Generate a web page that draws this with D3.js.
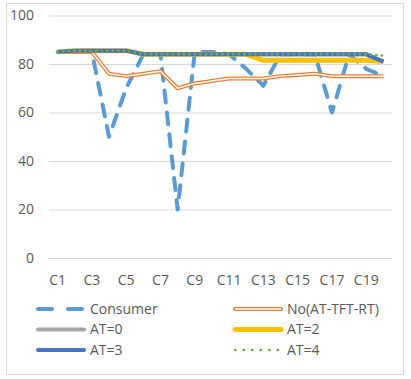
<!DOCTYPE html>
<html>
<head>
<meta charset="utf-8">
<script src="https://cdn.jsdelivr.net/npm/d3@7"></script>
<style>
  body { margin: 0; background: #fff; }
  svg { display: block; font-family: "Open Sans", sans-serif; }
</style>
</head>
<body>
<script>
const categories = ["C1", "C2", "C3", "C4", "C5", "C6", "C7", "C8", "C9", "C10",
    "C11", "C12", "C13", "C14", "C15", "C16", "C17", "C18", "C19", "C20"];

const consumer = [85, 85, 85, 50, 70, 84, 84, 20, 85, 85, 84, 78, 71, 84, 84, 84, 60, 84, 78, 75];
const noAtTftRt = [85, 85, 85, 76, 75, 76, 77, 70, 72, 73, 74, 74, 74, 75, 75.5, 76, 75, 75, 75, 75];
const at0 = [85, 85.5, 85.5, 85.5, 85.5, 84, 84, 84, 84, 84, 84, 84, 84, 84, 84, 84, 84, 84, 84, 81];
const at2 = [85, 85.5, 85.5, 85.5, 85.5, 84, 84, 84, 84, 84, 84, 84, 81.5, 81.5, 81.5, 81.5, 81.5, 81.5, 81.5, 81];
const at3 = [85, 85.5, 85.5, 85.5, 85.5, 84, 84, 84, 84, 84, 84, 84, 84, 84, 84, 84, 84, 84, 84, 81];
const at4 = [85, 85.5, 85.5, 85.5, 85.5, 84, 84, 84, 84, 84, 84, 84, 84, 84, 84, 84, 84, 84, 84, 83.5];

const yTicks = [0, 20, 40, 60, 80, 100];

const w = 411, h = 379;

const svg = d3.select('body').append('svg')
    .attr('width', w)
    .attr('height', h);

// chart frame
svg.append('rect')
    .attr('x', 6.5).attr('y', 3.5)
    .attr('width', 397).attr('height', 371)
    .attr('fill', '#fff')
    .attr('stroke', '#d9d9d9');

const x = d3.scaleBand()
    .domain(categories)
    .range([49, 392]);

const y = d3.scaleLinear()
    .domain([0, 100])
    .range([258, 15.5]);

const px = c => x(c) + x.bandwidth() / 2;

// gridlines + y labels
const yAxis = svg.append('g')
    .attr('transform', 'translate(49,0)')
    .call(d3.axisLeft(y).tickValues(yTicks).tickSize(-343).tickPadding(15));
yAxis.select('.domain').remove();
yAxis.selectAll('.tick line').attr('stroke', '#d9d9d9');
yAxis.selectAll('.tick text')
    .attr('fill', '#595959')
    .style('font-size', '14px')
    .style('font-family', '"Open Sans", sans-serif');

// x labels
const xAxis = svg.append('g')
    .attr('transform', 'translate(0,258)')
    .call(d3.axisBottom(x)
        .tickValues(categories.filter((d, i) => i % 2 === 0))
        .tickSize(0).tickPadding(17));
xAxis.select('.domain').remove();
xAxis.selectAll('.tick text')
    .attr('fill', '#595959')
    .style('font-size', '14px')
    .style('font-family', '"Open Sans", sans-serif');

const line = d3.line()
    .x((d, i) => px(categories[i]))
    .y(d => y(d));

const series = [
    { name: 'Consumer', data: consumer, color: '#5b9bd5', width: 4, dash: '12,10', cap: 'round' },
    { name: 'No(AT-TFT-RT)', data: noAtTftRt, color: '#ed7d31', width: 4, inner: true },
    { name: 'AT=0', data: at0, color: '#a5a5a5', width: 4 },
    { name: 'AT=2', data: at2, color: '#ffc000', width: 5 },
    { name: 'AT=3', data: at3, color: '#4472c4', width: 4 },
    { name: 'AT=4', data: at4, color: '#70ad47', width: 2.5, dash: '0.5,5', cap: 'round' }
];

const plot = svg.append('g');

series.forEach(s => {
    plot.append('path')
        .datum(s.data)
        .attr('d', line)
        .attr('fill', 'none')
        .attr('stroke', s.color)
        .attr('stroke-width', s.width)
        .attr('stroke-dasharray', s.dash || null)
        .attr('stroke-linecap', s.cap || 'butt')
        .attr('stroke-linejoin', 'round');
    if (s.inner) {
        plot.append('path')
            .datum(s.data)
            .attr('d', line)
            .attr('fill', 'none')
            .attr('stroke', '#fff')
            .attr('stroke-width', 1.5)
            .attr('stroke-linejoin', 'round');
    }
});

// legend
const legendPos = [[36, 309], [233, 309], [36, 329.5], [233, 329.5], [36, 350], [233, 350]];

series.forEach((s, i) => {
    const [lx, ly] = legendPos[i];
    const g = svg.append('g').attr('transform', `translate(${lx},${ly})`);
    g.append('line')
        .attr('x1', 2).attr('x2', 48)
        .attr('stroke', s.color)
        .attr('stroke-width', s.width)
        .attr('stroke-dasharray', s.dash ? (i === 0 ? '14,16' : '0.5,8') : null)
        .attr('stroke-linecap', s.cap || 'round');
    if (s.inner) {
        g.append('line')
            .attr('x1', 2).attr('x2', 48)
            .attr('stroke', '#fff')
            .attr('stroke-width', 1.5);
    }
    g.append('text')
        .attr('x', 54)
        .attr('dy', '0.35em')
        .attr('fill', '#595959')
        .style('font-size', '14px')
        .text(s.name);
});
</script>
</body>
</html>
